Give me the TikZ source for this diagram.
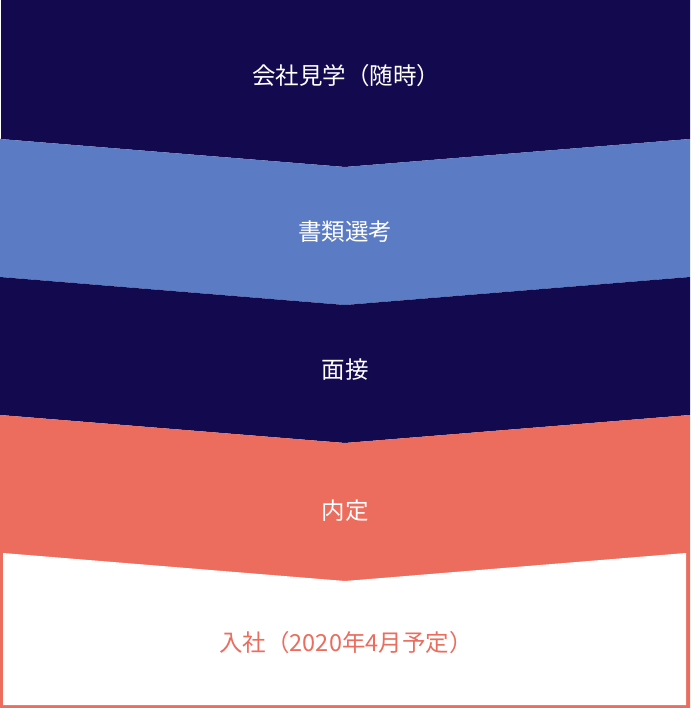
\documentclass[tikz,border=0pt]{standalone}
\usepackage{fontspec}
\newfontfamily\cjk{Noto Sans CJK JP}
\definecolor{navy}{HTML}{13094E}
\definecolor{midblue}{HTML}{5B7BC4}
\definecolor{coral}{HTML}{EC6C5D}
\begin{document}
\begin{tikzpicture}[x=1pt,y=-1pt,
  label/.style={font=\cjk\fontsize{23.5}{28}\selectfont, inner sep=0pt, anchor=center}]
\useasboundingbox (0,0) rectangle (690,708);
% bands (top to bottom)
\fill[navy] (1,0) -- (690,0) -- (690,139) -- (345,167) -- (0,139) -- (1,139) -- cycle;
\fill[midblue] (0,139) -- (345,167) -- (690,139) -- (690,277) -- (345,305) -- (0,277) -- cycle;
\fill[navy] (0,277) -- (345,305) -- (690,277) -- (690,415) -- (345,443) -- (0,415) -- cycle;
\fill[coral] (0,415) -- (345,443) -- (690,415) -- (690,708) -- (0,708) -- cycle;
\fill[white] (3,553) -- (345,581) -- (686,553) -- (686,705) -- (3,705) -- cycle;
% labels
\node[label, text=white] (visit) at (346,76) {会社見学（随時）};
\node[label, text=white] (docs) at (345,232) {書類選考};
\node[label, text=white] (interview) at (345,370) {面接};
\node[label, text=white] (offer) at (345,511) {内定};
\node[label, text=coral] (join) at (346,643) {入社（2020年4月予定）};
\end{tikzpicture}
\end{document}
